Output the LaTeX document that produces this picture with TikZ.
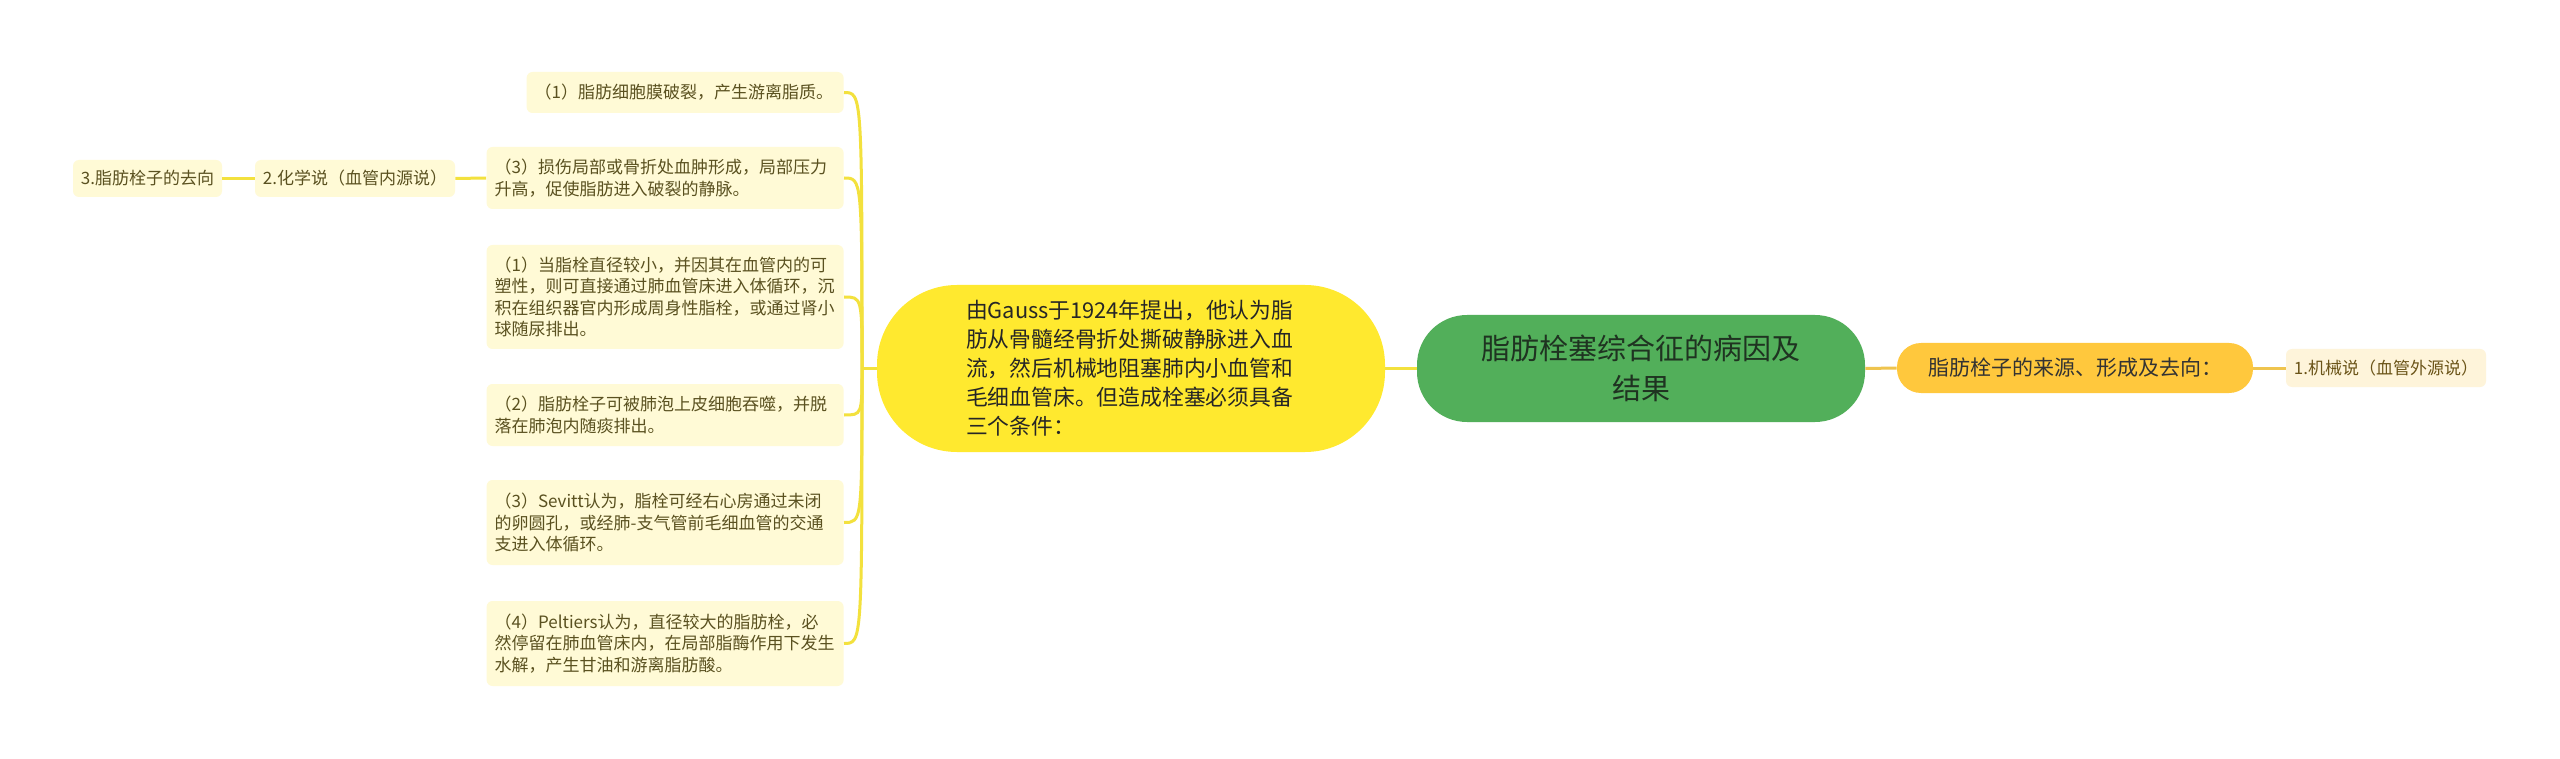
\documentclass[tikz,border=0pt]{standalone}
\usepackage{fontspec}
\newfontfamily\cjk{Noto Sans CJK SC}

\definecolor{rootfill}{HTML}{52AF5A}
\definecolor{roottext}{HTML}{1F3321}
\definecolor{gaussfill}{HTML}{FFE92F}
\definecolor{srcfill}{HTML}{FFC83D}
\definecolor{leaffill}{HTML}{FFFAD6}
\definecolor{leaftext}{HTML}{5A5120}
\definecolor{mechfill}{HTML}{FEF4DA}
\definecolor{mechtext}{HTML}{6B5418}
\definecolor{ylinecol}{HTML}{F3E13D}
\definecolor{glinecol}{HTML}{EFC44E}

\begin{document}
\begin{tikzpicture}[x=0.5pt,y=-0.5pt,
    yline/.style={draw=ylinecol, line width=1.5pt},
    gline/.style={draw=glinecol, line width=1.5pt},
    leaf/.style={fill=leaffill, text=leaftext, rounded corners=3pt, align=left,
        inner xsep=4pt, inner ysep=0pt, anchor=east,
        font=\cjk\fontsize{8.5}{10.8}\selectfont},
    tag/.style={fill=leaffill, text=leaftext, rounded corners=3pt, inner sep=0pt,
        minimum height=18.5pt, font=\cjk\fontsize{8.5}{10.8}\selectfont}]

    \fill[white] (0,0) rectangle (2560,759);

    % centre and first level
    \node (root) at (1641,368.5) [fill=rootfill, text=roottext, rounded corners=25pt,
        minimum width=224pt, minimum height=53.5pt, inner sep=0pt, align=center,
        font=\cjk\fontsize{14.5}{20}\selectfont] {脂肪栓塞综合征的病因及\\结果};
    \node (gauss) at (1131,368.5) [fill=gaussfill, text=black!85, rounded corners=40pt,
        minimum width=254pt, minimum height=83.5pt, inner sep=0pt, text width=165pt, align=left,
        font=\cjk\fontsize{10.9}{14.5}\selectfont]
        {由Gauss于1924年提出，他认为脂\\肪从骨髓经骨折处撕破静脉进入血\\流，然后机械地阻塞肺内小血管和\\毛细血管床。但造成栓塞必须具备\\三个条件：};
    \node (src) at (2075,368) [fill=srcfill, text=black!80, rounded corners=12pt,
        minimum width=178pt, minimum height=25pt, inner sep=0pt,
        font=\cjk\fontsize{10.5}{13}\selectfont] {脂肪栓子的来源、形成及去向：};
    \node (mech) at (2386,368) [tag, fill=mechfill, text=mechtext, minimum width=100pt,
        minimum height=19pt] {1.机械说（血管外源说）};

    % left leaves
    \node (b1) at (844,92.5) [leaf, text width=150.5pt, minimum height=20.5pt]
        {（1）脂肪细胞膜破裂，产生游离脂质。};
    \node (b2) at (844,178) [leaf, text width=170.5pt, minimum height=31pt]
        {（3）损伤局部或骨折处血肿形成，局部压力\\升高，促使脂肪进入破裂的静脉。};
    \node (b3) at (844,297) [leaf, text width=170.5pt, minimum height=52pt]
        {（1）当脂栓直径较小，并因其在血管内的可\\塑性，则可直接通过肺血管床进入体循环，沉\\积在组织器官内形成周身性脂栓，或通过肾小\\球随尿排出。};
    \node (b4) at (844,415) [leaf, text width=170.5pt, minimum height=31pt]
        {（2）脂肪栓子可被肺泡上皮细胞吞噬，并脱\\落在肺泡内随痰排出。};
    \node (b5) at (844,522.5) [leaf, text width=170.5pt, minimum height=42.5pt]
        {（3）Sevitt认为，脂栓可经右心房通过未闭\\的卵圆孔，或经肺-支气管前毛细血管的交通\\支进入体循环。};
    \node (b6) at (844,643.5) [leaf, text width=170.5pt, minimum height=42.5pt]
        {（4）Peltiers认为，直径较大的脂肪栓，必\\然停留在肺血管床内，在局部脂酶作用下发生\\水解，产生甘油和游离脂肪酸。};

    \node (chem) at (355,178.5) [tag, minimum width=100pt] {2.化学说（血管内源说）};
    \node (fate) at (147.5,178.5) [tag, minimum width=74.5pt] {3.脂肪栓子的去向};

    % connectors
    \coordinate (jl) at (862,368.5);
    \draw[yline] (root.west) -- (gauss.east);
    \draw[gline] (root.east) -- (src.west);
    \draw[gline] (src.east) -- (mech.west);
    \draw[yline] (gauss.west) -- (jl);
    \foreach \b in {b1,b2,b3,b4,b5,b6}
        \draw[yline] (jl) .. controls (jl |- \b.east) .. (\b.east);
    \draw[yline] (b2.west) -- (chem.east);
    \draw[yline] (chem.west) -- (fate.east);
\end{tikzpicture}
\end{document}
